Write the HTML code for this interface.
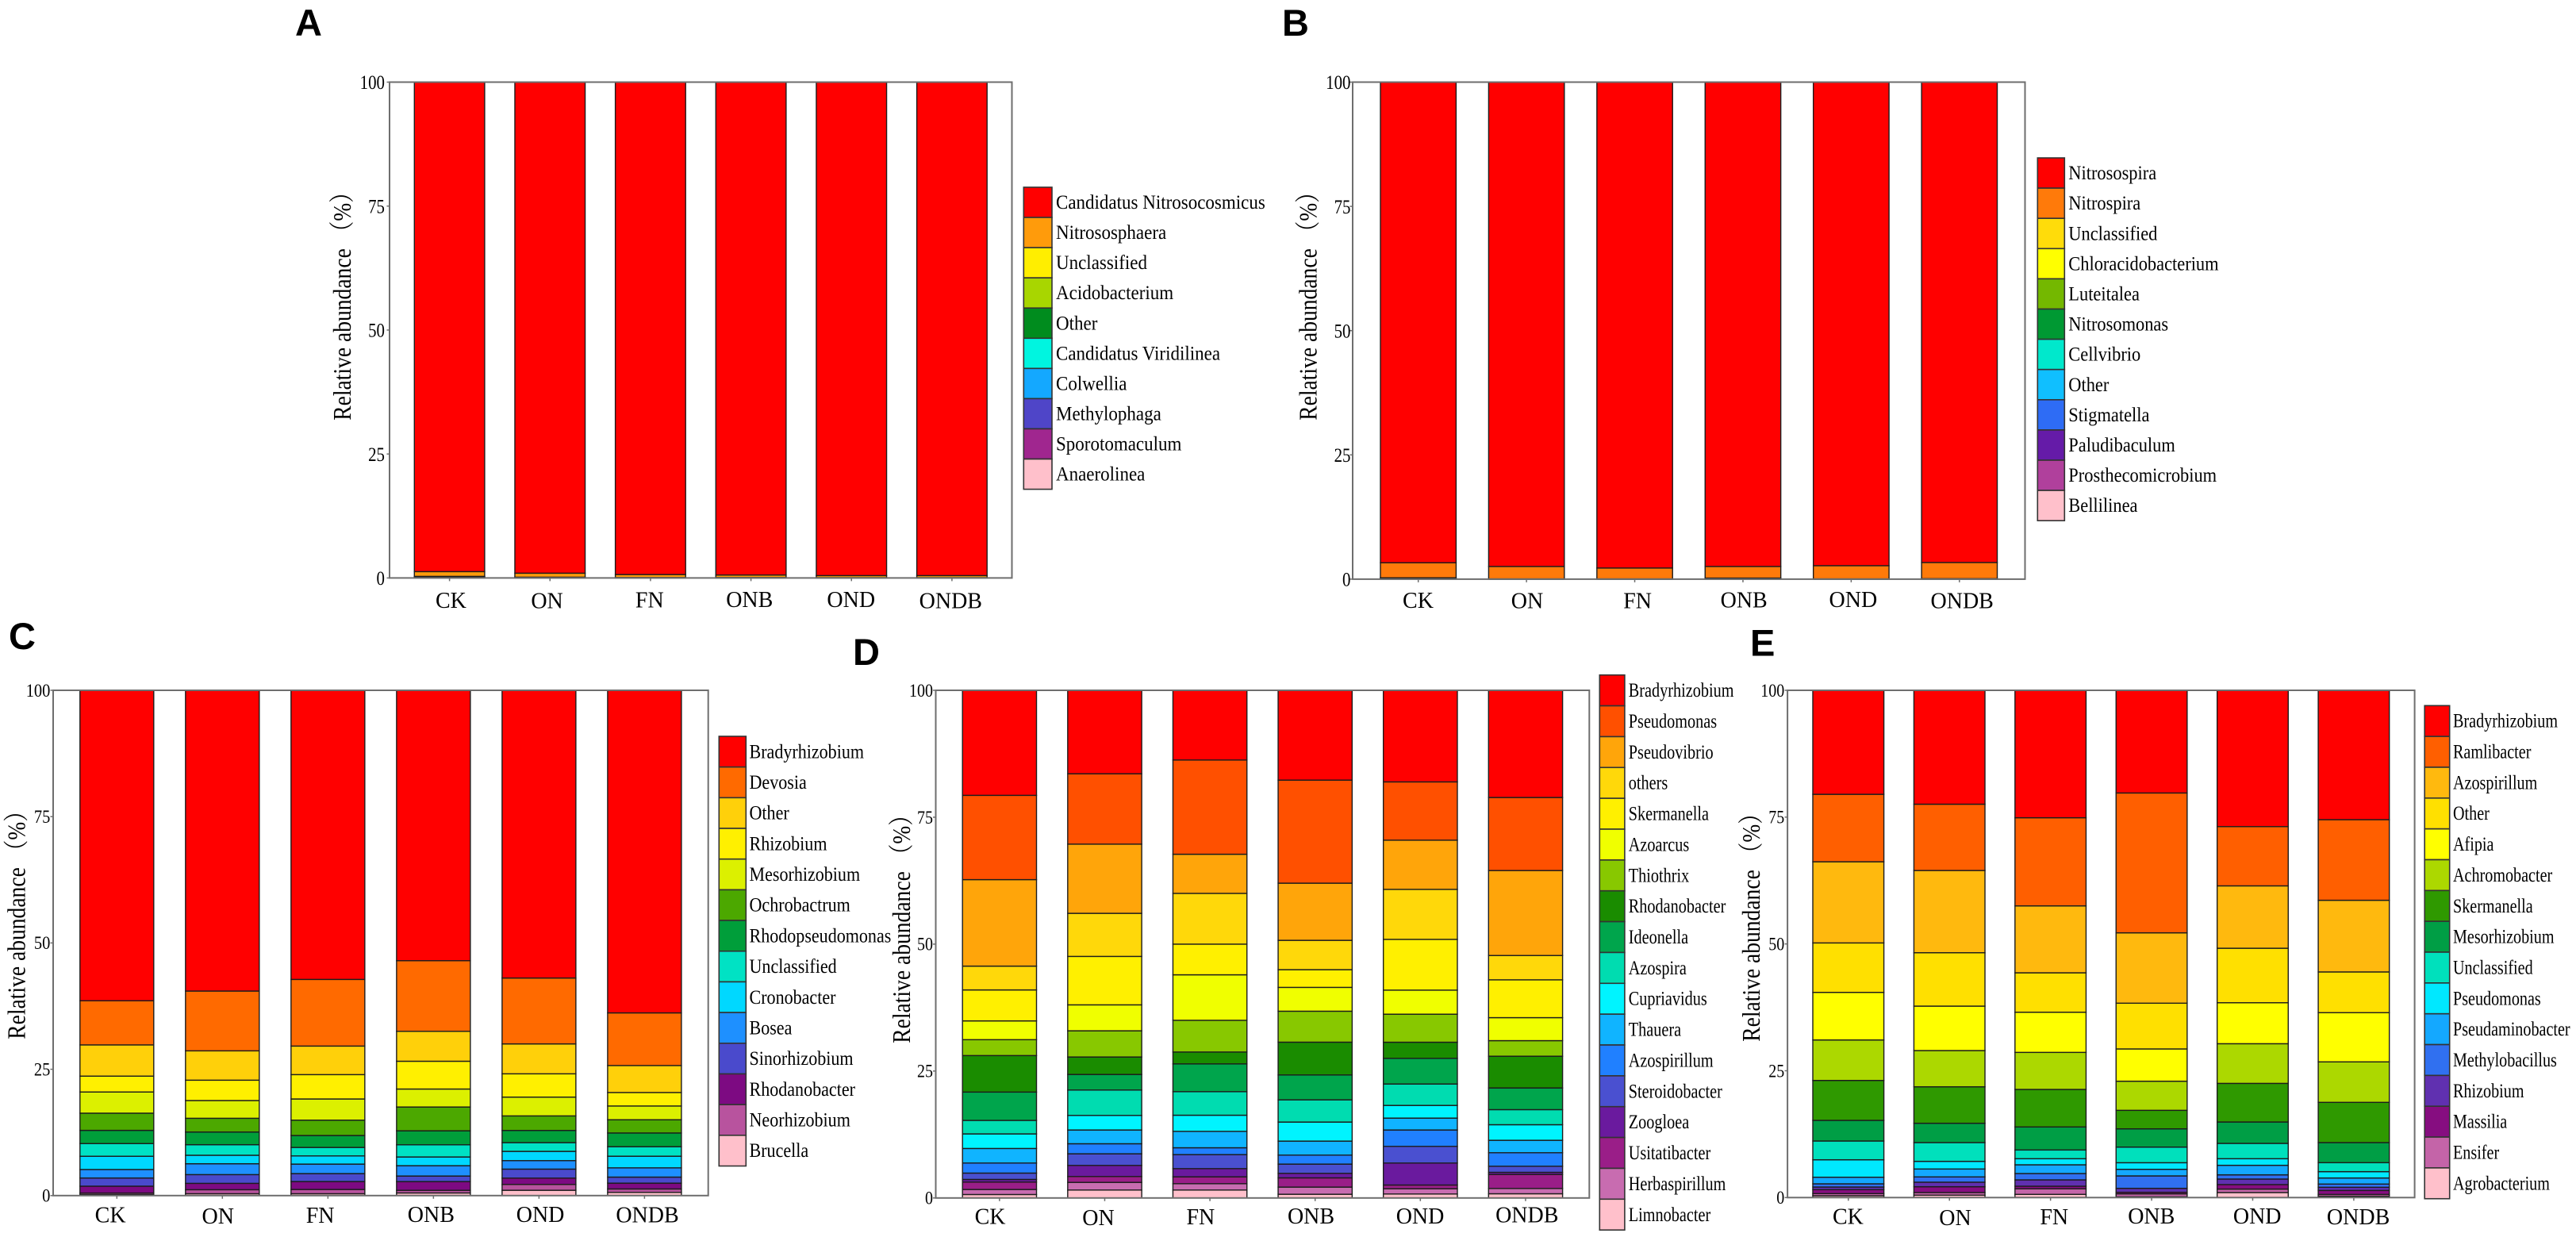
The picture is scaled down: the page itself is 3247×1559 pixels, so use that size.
<!DOCTYPE html>
<html lang="en">
<head>
<meta charset="utf-8">
<title>Relative abundance stacked bar charts</title>
<style>
  html, body { margin: 0; padding: 0; background: #fff; }
  svg { display: block; }
  .serif { font-family: "Liberation Serif", "Noto Serif CJK SC", serif; fill: #000; }
  .letter { font-family: "Liberation Sans", sans-serif; font-weight: 700; font-size: 47px; fill: #000; }
</style>
</head>
<body>
<svg id="figure" xmlns="http://www.w3.org/2000/svg" width="3247" height="1559" viewBox="0 0 3247 1559"></svg>
<script>
const groups = ['CK', 'ON', 'FN', 'ONB', 'OND', 'ONDB'];
const yTicks = [0, 25, 50, 75, 100];
const yTitle = 'Relative abundance （%）';

const taxaA = ['Candidatus Nitrosocosmicus', 'Nitrososphaera', 'Unclassified', 'Acidobacterium', 'Other', 'Candidatus Viridilinea', 'Colwellia', 'Methylophaga', 'Sporotomaculum', 'Anaerolinea'];
const aCK = [98.72, 0.96, 0.1, 0.08, 0.05, 0.03, 0.02, 0.02, 0.01, 0.01];
const aON = [99.04, 0.8, 0.06, 0.04, 0.02, 0.01, 0.01, 0.01, 0.005, 0.005];
const aFN = [99.31, 0.6, 0.03, 0.02, 0.01, 0.01, 0.01, 0.005, 0.003, 0.002];
const aONB = [99.41, 0.5, 0.03, 0.02, 0.01, 0.01, 0.01, 0.005, 0.003, 0.002];
const aOND = [99.52, 0.42, 0.02, 0.01, 0.01, 0.005, 0.005, 0.004, 0.003, 0.003];
const aONDB = [99.52, 0.42, 0.02, 0.01, 0.01, 0.005, 0.005, 0.004, 0.003, 0.003];

const taxaB = ['Nitrosospira', 'Nitrospira', 'Unclassified', 'Chloracidobacterium', 'Luteitalea', 'Nitrosomonas', 'Cellvibrio', 'Other', 'Stigmatella', 'Paludibaculum', 'Prosthecomicrobium', 'Bellilinea'];
const bCK = [96.7, 3.03, 0.1, 0.06, 0.04, 0.02, 0.02, 0.01, 0.01, 0.005, 0.003, 0.002];
const bON = [97.45, 2.5, 0.02, 0.01, 0.01, 0.004, 0.002, 0.002, 0.001, 0.0005, 0.0003, 0.0002];
const bFN = [97.76, 2.19, 0.02, 0.01, 0.01, 0.004, 0.002, 0.002, 0.001, 0.0005, 0.0003, 0.0002];
const bONB = [97.45, 2.34, 0.08, 0.05, 0.03, 0.02, 0.01, 0.01, 0.005, 0.003, 0.001, 0.001];
const bOND = [97.29, 2.66, 0.02, 0.01, 0.01, 0.004, 0.002, 0.002, 0.001, 0.0005, 0.0003, 0.0002];
const bONDB = [96.65, 3.25, 0.04, 0.03, 0.01, 0.01, 0.004, 0.003, 0.001, 0.001, 0.0005, 0.0005];

const taxaC = ['Bradyrhizobium', 'Devosia', 'Other', 'Rhizobium', 'Mesorhizobium', 'Ochrobactrum', 'Rhodopseudomonas', 'Unclassified', 'Cronobacter', 'Bosea', 'Sinorhizobium', 'Rhodanobacter', 'Neorhizobium', 'Brucella'];
const cCK = [61.41, 8.74, 6.18, 3.14, 4.19, 3.4, 2.62, 2.51, 2.62, 1.68, 1.62, 1.36, 0.3, 0.2];
const cON = [59.53, 11.83, 5.81, 4.03, 3.51, 2.72, 2.51, 2.09, 1.68, 2.15, 1.73, 1.26, 0.79, 0.37];
const cFN = [57.23, 13.19, 5.65, 4.82, 4.19, 3.04, 2.36, 1.68, 1.62, 1.88, 1.57, 1.57, 0.84, 0.37];
const cONB = [53.51, 13.98, 5.92, 5.5, 3.56, 4.71, 2.77, 2.41, 1.73, 2.04, 1.1, 1.73, 0.52, 0.52];
const cOND = [56.96, 13.04, 5.92, 4.61, 3.72, 2.88, 2.41, 1.73, 1.83, 1.68, 1.78, 1.26, 1.15, 1.05];
const cONDB = [63.82, 10.42, 5.34, 2.67, 2.72, 2.62, 2.72, 1.88, 2.3, 1.83, 1.2, 1.15, 0.68, 0.63];

const taxaD = ['Bradyrhizobium', 'Pseudomonas', 'Pseudovibrio', 'others', 'Skermanella', 'Azoarcus', 'Thiothrix', 'Rhodanobacter', 'Ideonella', 'Azospira', 'Cupriavidus', 'Thauera', 'Azospirillum', 'Steroidobacter', 'Zoogloea', 'Usitatibacter', 'Herbaspirillum', 'Limnobacter'];
const dCK = [20.7, 16.6, 17.04, 4.69, 6.1, 3.7, 3.13, 7.19, 5.58, 2.66, 2.87, 2.87, 1.98, 1.25, 0.52, 1.46, 0.99, 0.68];
const dON = [16.44, 13.86, 13.63, 8.49, 9.54, 5.11, 5.16, 3.44, 3.07, 5.0, 2.87, 2.71, 1.98, 2.29, 2.19, 1.15, 1.51, 1.56];
const dFN = [13.7, 18.56, 7.71, 10.0, 6.04, 8.96, 6.25, 2.34, 5.47, 4.64, 3.18, 3.23, 1.35, 2.76, 1.62, 1.35, 1.25, 1.56];
const dONB = [17.7, 20.3, 11.26, 5.78, 3.49, 4.69, 6.1, 6.46, 4.9, 4.38, 3.75, 2.76, 1.77, 1.82, 0.89, 1.82, 1.41, 0.73];
const dOND = [18.02, 11.48, 9.69, 9.85, 10.0, 4.74, 5.52, 3.18, 5.05, 4.22, 2.5, 2.34, 3.23, 3.28, 4.33, 0.73, 1.04, 0.78];
const dONDB = [21.09, 14.39, 16.74, 4.79, 7.45, 4.53, 3.07, 6.25, 4.27, 2.97, 3.07, 2.45, 2.66, 1.2, 0.42, 2.76, 1.04, 0.83];

const taxaE = ['Bradyrhizobium', 'Ramlibacter', 'Azospirillum', 'Other', 'Afipia', 'Achromobacter', 'Skermanella', 'Mesorhizobium', 'Unclassified', 'Pseudomonas', 'Pseudaminobacter', 'Methylobacillus', 'Rhizobium', 'Massilia', 'Ensifer', 'Agrobacterium'];
const eCK = [20.5, 13.3, 16.0, 9.75, 9.38, 7.98, 7.87, 4.07, 3.7, 3.44, 1.3, 0.63, 0.52, 0.78, 0.42, 0.36];
const eON = [22.44, 13.07, 16.21, 10.53, 8.76, 7.14, 7.19, 3.81, 3.7, 1.51, 1.56, 1.04, 0.89, 1.15, 0.52, 0.47];
const eFN = [25.12, 17.38, 13.19, 7.77, 7.92, 7.3, 7.4, 4.54, 1.72, 1.2, 1.72, 1.25, 1.25, 0.52, 1.09, 0.63];
const eONB = [20.24, 27.57, 13.87, 9.02, 6.36, 5.74, 3.65, 3.6, 3.08, 1.3, 1.3, 2.45, 0.78, 0.31, 0.57, 0.16];
const eOND = [26.85, 11.68, 12.3, 10.74, 8.08, 7.82, 7.61, 4.22, 3.02, 1.3, 1.88, 0.83, 1.09, 0.89, 0.68, 0.99];
const eONDB = [25.51, 15.89, 14.13, 8.03, 9.7, 7.98, 7.93, 3.96, 1.77, 1.25, 1.2, 0.63, 0.63, 0.78, 0.36, 0.26];

const colorsA = ['#ff0000', '#ff9b0b', '#ffee00', '#a8d600', '#008c1e', '#00f5e0', '#14a8ff', '#4f45c8', '#a0268f', '#ffc0cb'];
const colorsB = ['#ff0000', '#ff7a0a', '#ffdc0a', '#ffff00', '#74b800', '#009933', '#00e8cc', '#10bfff', '#2e6cf5', '#651ba8', '#b0409c', '#ffc0cb'];
const colorsC = ['#ff0000', '#ff6a00', '#ffd00a', '#fff000', '#dcf000', '#4ca800', '#009e3a', '#00e2c4', '#00d8ff', '#1e90ff', '#4a4acc', '#7d0a82', '#b8539e', '#ffc0cb'];
const colorsD = ['#ff0000', '#ff5000', '#ffa50a', '#ffd80a', '#fff000', '#f0ff00', '#88c800', '#1a8c00', '#00a54c', '#00dcb0', '#00f4ff', '#10b4ff', '#2080ff', '#4a50d0', '#6a1a9e', '#9a1e88', '#c86cb0', '#ffc0cb'];
const colorsE = ['#ff0000', '#ff5f00', '#ffb90e', '#ffe000', '#ffff00', '#acd800', '#2f9900', '#009e45', '#00e0bc', '#00e8ff', '#14a8ff', '#3070f0', '#6030b0', '#860d80', '#c464a8', '#ffc0cb'];

const panels = [
  { key: 'a', letter: 'A', letterPos: [372, 45], taxa: taxaA, colors: colorsA, rows: [aCK, aON, aFN, aONB, aOND, aONDB],
    box: [491, 1275.5, 103.5, 728.4], gap: 31.3, barW: 88.6, tickGap: 6, tickFont: [25.5, 0.82],
    titlePos: [442, 379], legend: [1290.3, 236, 35.7, 38.06], legendTextX: 1331, legendFont: [25, 0.92],
    labelShift: [1.8, -3.7, -1.1, -1.8, -0.5, -1.6], labelDrop: [37.6, 38.3, 37.3, 36.6, 36.6, 38.3] },
  { key: 'b', letter: 'B', letterPos: [1616, 45], taxa: taxaB, colors: colorsB, rows: [bCK, bON, bFN, bONB, bOND, bONDB],
    box: [1705, 2552.5, 103.5, 729.9], gap: 35, barW: 95.4, tickGap: 2.5, tickFont: [25.5, 0.82],
    titlePos: [1659.5, 379], legend: [2568.3, 199, 34, 38.1], legendTextX: 2607.3, legendFont: [25.5, 0.88],
    labelShift: [-0.2, 0.9, 3.6, 1.2, 2.5, 3.4], labelDrop: [36.1, 36.8, 36.8, 35.4, 35.1, 36.8] },
  { key: 'c', letter: 'C', letterPos: [11, 818], taxa: taxaC, colors: colorsC, rows: [cCK, cON, cFN, cONB, cOND, cONDB],
    box: [67, 892.7, 870, 1506.8], gap: 33.8, barW: 93, tickGap: 3.6, tickFont: [23, 0.89],
    titlePos: [31.7, 1159], legend: [906.3, 928, 34, 38.68], legendTextX: 944.5, legendFont: [25.5, 0.865],
    labelShift: [-8.2, -5.6, -9.7, -3, 1.7, 3.6], labelDrop: [33.9, 35.2, 34.2, 33.2, 33.2, 33.9] },
  { key: 'd', letter: 'D', letterPos: [1075, 838], taxa: taxaD, colors: colorsD, rows: [dCK, dON, dFN, dONB, dOND, dONDB],
    box: [1179.5, 2003.3, 870, 1509.8], gap: 33.7, barW: 93.3, tickGap: 3.5, tickFont: [23, 0.87],
    titlePos: [1147, 1164], legend: [2016.3, 850.7, 31.6, 38.86], legendTextX: 2052.8, legendFont: [25.8, 0.785],
    labelShift: [-11.8, -8, -11.7, -5.2, -0.3, 1.8], labelDrop: [32.9, 34.2, 33.2, 32.2, 32.2, 30.9] },
  { key: 'e', letter: 'E', letterPos: [2206, 826.4], taxa: taxaE, colors: colorsE, rows: [eCK, eON, eFN, eONB, eOND, eONDB],
    box: [2253.1, 3043.6, 870, 1509.3], gap: 31.9, barW: 89.6, tickGap: 3.8, tickFont: [23, 0.87],
    titlePos: [2217.9, 1162], legend: [3056.2, 889.3, 31.5, 38.84], legendTextX: 3092, legendFont: [25.5, 0.79],
    labelShift: [-0.4, 7.3, 4.6, -0.3, 5.7, 5.7], labelDrop: [33.4, 34.7, 33.7, 32.7, 32.7, 33.7] }
];

const SVG_NS = 'http://www.w3.org/2000/svg';
const figure = document.getElementById('figure');

function slug(text) {
  return text.toLowerCase().replace(/[^a-z0-9]+/g, '-').replace(/^-|-$/g, '');
}

function make(tag, parent, attrs) {
  const node = document.createElementNS(SVG_NS, tag);
  Object.keys(attrs).forEach(function (k) { node.setAttribute(k, attrs[k]); });
  parent.appendChild(node);
  return node;
}

function drawPanel(p) {
  const left = p.box[0], right = p.box[1], top = p.box[2], bottom = p.box[3];
  const yScale = function (v) { return bottom - (v / 100) * (bottom - top); };
  const step = (right - left - 2 * p.gap - p.barW) / (groups.length - 1);
  const xScale = function (i) { return left + p.gap + i * step; };

  const g = make('g', figure, {});
  
  

  const letter = make('text', g, { x: p.letterPos[0], y: p.letterPos[1], class: 'letter' });
  letter.textContent = p.letter;
  
  

  const title = make('text', g, {
    transform: 'translate(' + p.titlePos[0] + ',' + p.titlePos[1] + ') rotate(-90) scale(0.985,1.14)',
    'text-anchor': 'middle', 'font-size': 28, class: 'serif'
  });
  title.textContent = yTitle;
  
  

  groups.forEach(function (groupName, gi) {
    const values = p.rows[gi];
    let cum = 0;
    for (let t = p.taxa.length - 1; t >= 0; t--) {
      const y1 = yScale(cum);
      cum += values[t];
      const y0 = yScale(cum);
      const seg = make('rect', g, {
        x: xScale(gi), y: y0, width: p.barW, height: Math.max(y1 - y0, 0),
        fill: p.colors[t], stroke: '#1c1c1c', 'stroke-width': 1.4
      });
      
      
    }
  });

  const box = make('rect', g, {
    x: left, y: top, width: right - left, height: bottom - top,
    fill: 'none', stroke: '#6e6e6e', 'stroke-width': 2
  });
  
  

  yTicks.forEach(function (tick) {
    const yy = yScale(tick);
    const mark = make('line', g, { x1: left - 3.5, x2: left, y1: yy, y2: yy, stroke: '#6e6e6e', 'stroke-width': 1.5 });
    
    
    const lab = make('text', g, {
      transform: 'translate(' + (left - p.tickGap) + ',' + (yy + p.tickFont[0] * 0.34) + ') scale(' + p.tickFont[1] + ',1)',
      'text-anchor': 'end', 'font-size': p.tickFont[0], class: 'serif'
    });
    lab.textContent = String(tick);
    
    
  });

  groups.forEach(function (groupName, gi) {
    const cx = xScale(gi) + p.barW / 2;
    const mark = make('line', g, { x1: cx, x2: cx, y1: bottom, y2: bottom + 4, stroke: '#6e6e6e', 'stroke-width': 1.5 });
    
    
    const lab = make('text', g, {
      x: cx + p.labelShift[gi], y: bottom + p.labelDrop[gi],
      'text-anchor': 'middle', 'font-size': 28, class: 'serif'
    });
    lab.textContent = groupName;
    
    
  });

  p.taxa.forEach(function (taxon, t) {
    const ly = p.legend[1] + t * p.legend[3];
    const swatch = make('rect', g, {
      x: p.legend[0], y: ly, width: p.legend[2], height: p.legend[3],
      fill: p.colors[t], stroke: '#333', 'stroke-width': 1.6
    });
    
    
    const lab = make('text', g, {
      transform: 'translate(' + p.legendTextX + ',' + (ly + p.legend[3] / 2 + 8) + ') scale(' + p.legendFont[1] + ',1)',
      'font-size': p.legendFont[0], class: 'serif'
    });
    lab.textContent = taxon;
    
    
  });
}

panels.forEach(drawPanel);
</script>
</body>
</html>
